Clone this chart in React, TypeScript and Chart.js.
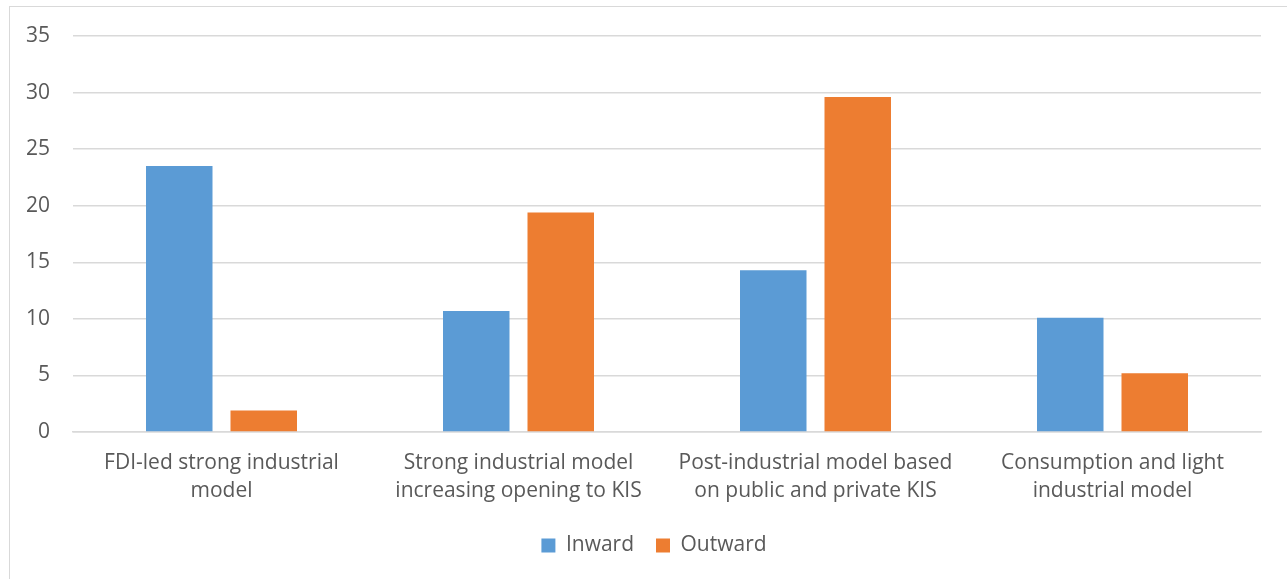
import { useEffect, useRef } from "react";
import { Chart, registerables } from "chart.js";

Chart.register(...registerables);

// Investment models, each label split over two lines
const categories: string[][] = [
  ["FDI-led strong industrial", "model"],
  ["Strong industrial model", "increasing opening to KIS"],
  ["Post-industrial model based", "on public and private KIS"],
  ["Consumption and light", "industrial model"],
];

const seriesNames = ["Inward", "Outward"];
const inwardValues = [23.5, 10.7, 14.3, 10.1];
const outwardValues = [1.9, 19.4, 29.6, 5.2];

const yMin = 0;
const yMax = 35;
const yStep = 5;

const FONT = "'Open Sans', sans-serif";
const TEXT = "#595959";
const GRID = "#d9d9d9";

export default function App() {
  const canvasRef = useRef<HTMLCanvasElement | null>(null);

  useEffect(() => {
    const canvas = canvasRef.current;
    if (!canvas) return;
    const chart = new Chart(canvas, {
      type: "bar",
      data: {
        labels: categories,
        datasets: [
          {
            label: seriesNames[0],
            data: inwardValues,
            backgroundColor: "#5b9bd5",
            categoryPercentage: 0.569,
            barPercentage: 0.787,
          },
          {
            label: seriesNames[1],
            data: outwardValues,
            backgroundColor: "#ed7d31",
            categoryPercentage: 0.569,
            barPercentage: 0.787,
          },
        ],
      },
      options: {
        animation: false,
        responsive: false,
        maintainAspectRatio: false,
        layout: { padding: { left: 0, right: 0, top: 29, bottom: 29 } },
        plugins: {
          tooltip: { enabled: false },
          legend: {
            position: "bottom",
            labels: {
              boxWidth: 14,
              boxHeight: 14,
              padding: 22,
              color: TEXT,
              font: { family: FONT, size: 21 },
            },
          },
        },
        scales: {
          x: {
            grid: { display: false, drawTicks: false },
            border: { display: true, color: GRID, width: 1.5 },
            ticks: {
              color: TEXT,
              padding: 17,
              maxRotation: 0,
              autoSkip: false,
              font: { family: FONT, size: 21, lineHeight: 1.33 },
            },
            afterFit: (scale: any) => {
              scale.height = 81;
            },
          },
          y: {
            min: yMin,
            max: yMax,
            ticks: {
              stepSize: yStep,
              color: TEXT,
              padding: 23,
              // small line height keeps the top label from adding extra space above the plot
              font: { family: FONT, size: 21, lineHeight: 0.5 },
            },
            grid: { color: GRID, lineWidth: 1.5, drawTicks: false },
            border: { display: false },
            afterFit: (scale: any) => {
              scale.width = 63;
            },
          },
          // empty right-hand margin so the legend stays centred on the full width
          yRight: {
            position: "right",
            display: true,
            grid: { display: false, drawTicks: false },
            border: { display: false },
            ticks: { display: false },
            afterFit: (scale: any) => {
              scale.width = 37;
            },
          },
        },
      },
    });
    return () => chart.destroy();
  }, []);

  return (
    <div
      style={{
        position: "fixed",
        left: 9,
        top: 6,
        width: 1290,
        height: 590,
        border: "1px solid #d9d9d9",
        boxSizing: "border-box",
        background: "#fff",
      }}
    >
      <canvas ref={canvasRef} width={1288} height={588} style={{ display: "block" }} />
    </div>
  );
}
